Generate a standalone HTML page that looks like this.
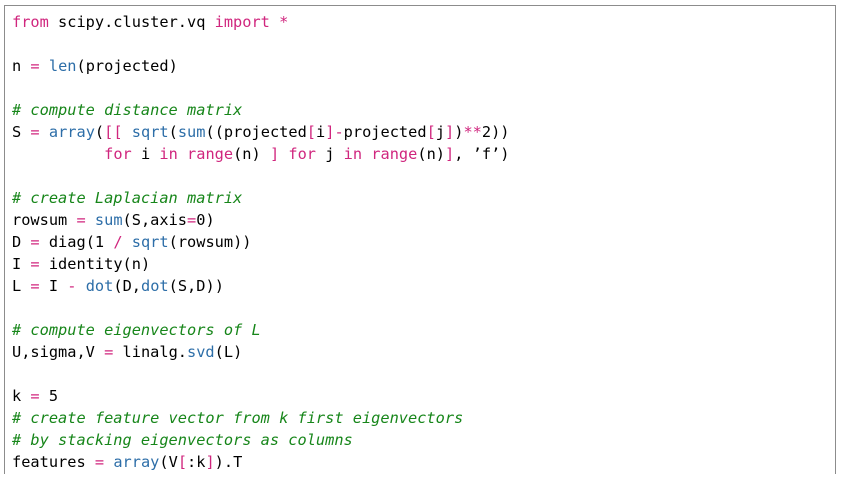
<!DOCTYPE html>
<html><head><meta charset="utf-8"><style>
html,body{margin:0;padding:0;background:#fff;width:841px;height:481px;overflow:hidden}
.box{position:absolute;left:4px;top:5px;width:830px;height:468px;border:1px solid #8c8c8c;border-bottom:none}
pre{position:absolute;left:12px;top:11px;margin:0;font:15.3px/22px "DejaVu Sans Mono","Liberation Mono",monospace;color:#000}
.k{color:#d0267e}.b{color:#2d6ea8}.c{color:#17861a;font-style:italic}
</style></head><body><div class="box"></div>
<pre><span class="k">from</span> scipy.cluster.vq <span class="k">import</span> <span class="k">*</span>

n <span class="k">=</span> <span class="b">len</span>(projected)

<span class="c"># compute distance matrix</span>
S <span class="k">=</span> <span class="b">array</span>(<span class="k">[[</span> <span class="b">sqrt</span>(<span class="b">sum</span>((projected<span class="k">[</span>i<span class="k">]</span><span class="k">-</span>projected<span class="k">[</span>j<span class="k">]</span>)<span class="k">**</span>2))
          <span class="k">for</span> i <span class="k">in</span> <span class="k">range</span>(n) <span class="k">]</span> <span class="k">for</span> j <span class="k">in</span> <span class="k">range</span>(n)<span class="k">]</span>, ’f’)

<span class="c"># create Laplacian matrix</span>
rowsum <span class="k">=</span> <span class="b">sum</span>(S,axis<span class="k">=</span>0)
D <span class="k">=</span> diag(1 <span class="k">/</span> <span class="b">sqrt</span>(rowsum))
I <span class="k">=</span> identity(n)
L <span class="k">=</span> I <span class="k">-</span> <span class="b">dot</span>(D,<span class="b">dot</span>(S,D))

<span class="c"># compute eigenvectors of L</span>
U,sigma,V <span class="k">=</span> linalg.<span class="b">svd</span>(L)

k <span class="k">=</span> 5
<span class="c"># create feature vector from k first eigenvectors</span>
<span class="c"># by stacking eigenvectors as columns</span>
features <span class="k">=</span> <span class="b">array</span>(V<span class="k">[</span>:k<span class="k">]</span>).T</pre>
</body></html>
